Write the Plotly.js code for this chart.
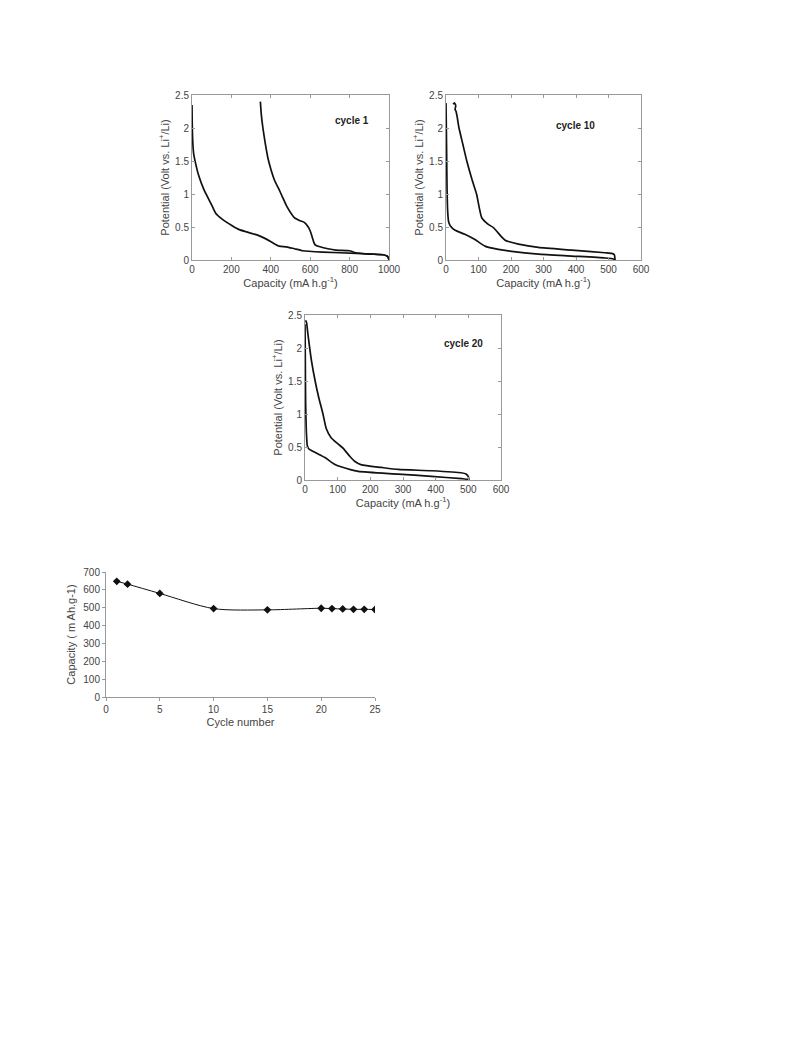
<!DOCTYPE html>
<html>
<head>
<meta charset="utf-8">
<script src="https://cdn.plot.ly/plotly-3.0.1.min.js"></script>
<style>html,body{margin:0;padding:0;background:#fff;}#chart{width:793px;height:1059px;}</style>
</head>
<body>
<div id="chart"></div>
<script>
// ---- Cycle 1 ----
const c1DischargeCap = [0, 1, 3, 8, 17, 34, 60, 85, 105, 120, 153, 204, 240, 272, 330, 375, 410, 443, 480, 520, 562, 664, 835, 971, 990, 997, 1000];
const c1DischargeV   = [2.35, 2.1, 1.85, 1.62, 1.48, 1.28, 1.07, 0.92, 0.8, 0.71, 0.62, 0.52, 0.46, 0.43, 0.38, 0.32, 0.26, 0.21, 0.2, 0.17, 0.14, 0.12, 0.1, 0.08, 0.06, 0.03, 0.0];
const c1ChargeCap = [1000, 998, 990, 970, 900, 830, 800, 730, 690, 650, 625, 618, 610, 600, 590, 570, 545, 520, 500, 480, 460, 440, 420, 400, 385, 370, 360, 352, 347];
const c1ChargeV   = [0.0, 0.03, 0.06, 0.08, 0.09, 0.11, 0.14, 0.15, 0.17, 0.2, 0.23, 0.27, 0.35, 0.44, 0.5, 0.57, 0.6, 0.64, 0.72, 0.82, 0.95, 1.08, 1.2, 1.38, 1.55, 1.8, 2.0, 2.2, 2.4];

// ---- Cycle 10 ----
const c10DischargeCap = [0, 1, 2, 3, 5, 8, 13, 28, 58, 89, 120, 161, 202, 284, 387, 489, 515, 520];
const c10DischargeV   = [2.38, 2.0, 1.6, 1.15, 0.75, 0.58, 0.52, 0.45, 0.39, 0.31, 0.21, 0.16, 0.13, 0.09, 0.06, 0.03, 0.015, 0.0];
const c10ChargeCap = [520, 518, 510, 489, 387, 284, 223, 192, 182, 171, 146, 130, 110, 94, 80, 64, 52, 40, 34, 31, 28, 30, 26, 22];
const c10ChargeV   = [0.0, 0.08, 0.1, 0.11, 0.15, 0.19, 0.24, 0.28, 0.3, 0.35, 0.49, 0.54, 0.64, 1.0, 1.22, 1.5, 1.75, 2.0, 2.18, 2.25, 2.28, 2.34, 2.38, 2.36];

// ---- Cycle 20 ----
const c20DischargeCap = [0, 0.5, 1, 2, 4, 7, 12, 30, 61, 90, 110, 163, 285, 387, 480, 498, 502];
const c20DischargeV   = [2.36, 2.1, 1.75, 1.15, 0.75, 0.52, 0.47, 0.42, 0.34, 0.24, 0.2, 0.13, 0.09, 0.055, 0.02, 0.01, 0.0];
const c20ChargeCap = [502, 500, 493, 478, 387, 285, 234, 173, 153, 137, 117, 100, 80, 65, 55, 42, 31, 20, 13, 8, 5, 2];
const c20ChargeV   = [0.0, 0.05, 0.09, 0.11, 0.14, 0.16, 0.19, 0.23, 0.28, 0.36, 0.48, 0.55, 0.64, 0.78, 1.0, 1.25, 1.5, 1.8, 2.05, 2.25, 2.38, 2.42];

// ---- Capacity vs cycle ----
const cycles   = [1, 2, 5, 10, 15, 20, 21, 22, 23, 24, 25];
const capacity = [648, 632, 580, 495, 488, 497, 495, 493, 491, 491, 490];

const W = 793, H = 1059;
const dx = (a, b) => [a / W, b / W];
const dy = (top, bot) => [1 - bot / H, 1 - top / H];
const FAM = 'Liberation Sans, Arial, sans-serif';

function cur(x, y, xa, ya) {
  return {x: x, y: y, xaxis: xa, yaxis: ya, type: 'scatter', mode: 'lines',
    line: {color: '#111', width: 1.7, shape: 'spline', smoothing: 0.5}, showlegend: false, hoverinfo: 'skip'};
}

const data = [
  cur(c1DischargeCap, c1DischargeV, 'x', 'y'),
  cur(c1ChargeCap, c1ChargeV, 'x', 'y'),
  cur(c10DischargeCap, c10DischargeV, 'x2', 'y2'),
  cur(c10ChargeCap, c10ChargeV, 'x2', 'y2'),
  cur(c20DischargeCap, c20DischargeV, 'x3', 'y3'),
  cur(c20ChargeCap, c20ChargeV, 'x3', 'y3'),
  {x: cycles, y: capacity, xaxis: 'x4', yaxis: 'y4', type: 'scatter', mode: 'lines+markers',
   line: {color: '#111', width: 1, shape: 'spline', smoothing: 0.8},
   marker: {symbol: 'diamond', size: 6, color: '#111'}, showlegend: false}
];

const tickFont = {family: FAM, size: 10, color: '#444'};
const titleFont = {family: FAM, size: 11, color: '#444'};

function vx(domain, range, dtick, anchor) {
  return {domain: domain, range: range, dtick: dtick, anchor: anchor, showgrid: false, zeroline: false,
    showline: true, linecolor: '#999', linewidth: 1, mirror: 'ticks', ticks: 'inside', ticklen: 3, tickcolor: '#999',
    tickfont: tickFont, title: {text: 'Capacity (mA h.g<sup>-1</sup>)', font: titleFont, standoff: 3}, fixedrange: true};
}
function vy(domain, anchor) {
  return {domain: domain, range: [0, 2.5], dtick: 0.5, anchor: anchor, showgrid: false, zeroline: false,
    showline: true, linecolor: '#999', linewidth: 1, mirror: 'ticks', ticks: 'inside', ticklen: 3, tickcolor: '#999',
    tickfont: tickFont, title: {text: 'Potential (Volt vs. Li<sup>+</sup>/Li)', font: titleFont, standoff: 3}, fixedrange: true};
}

const layout = {
  width: W, height: H,
  margin: {l: 0, r: 0, t: 0, b: 0},
  paper_bgcolor: '#fff', plot_bgcolor: '#fff',
  xaxis: vx(dx(192, 389), [0, 1000], 200, 'y'),
  yaxis: vy(dy(95, 260), 'x'),
  xaxis2: vx(dx(446, 641), [0, 600], 100, 'y2'),
  yaxis2: vy(dy(95, 260), 'x2'),
  xaxis3: vx(dx(305, 501), [0, 600], 100, 'y3'),
  yaxis3: vy(dy(315, 480), 'x3'),
  xaxis4: {domain: dx(106, 375), range: [0, 25], dtick: 5, anchor: 'y4', showgrid: false, zeroline: false,
    showline: true, linecolor: '#999', linewidth: 1, ticks: 'outside', ticklen: 3, tickcolor: '#999',
    tickfont: tickFont, title: {text: 'Cycle number', font: {family: FAM, size: 11, color: '#444'}, standoff: 4}},
  yaxis4: {domain: dy(572, 697), range: [0, 700], dtick: 100, anchor: 'x4', showgrid: false, zeroline: false,
    showline: true, linecolor: '#999', linewidth: 1, ticks: 'outside', ticklen: 3, tickcolor: '#999',
    tickfont: tickFont, title: {text: 'Capacity ( m Ah.g-1)', font: {family: FAM, size: 11, color: '#444'}, standoff: 5}},
  annotations: [
    {text: '<b>cycle 1</b>', xref: 'paper', yref: 'paper', x: 352 / W, y: 1 - 113 / H, showarrow: false,
     font: {family: FAM, size: 10, color: '#222'}},
    {text: '<b>cycle 10</b>', xref: 'paper', yref: 'paper', x: 597 / W, y: 1 - 118 / H, showarrow: false,
     font: {family: FAM, size: 10, color: '#222'}},
    {text: '<b>cycle 20</b>', xref: 'paper', yref: 'paper', x: 464 / W, y: 1 - 336 / H, showarrow: false,
     font: {family: FAM, size: 10, color: '#222'}}
  ]
};

Plotly.newPlot('chart', data, layout, {displayModeBar: false, staticPlot: true});
</script>
</body>
</html>
